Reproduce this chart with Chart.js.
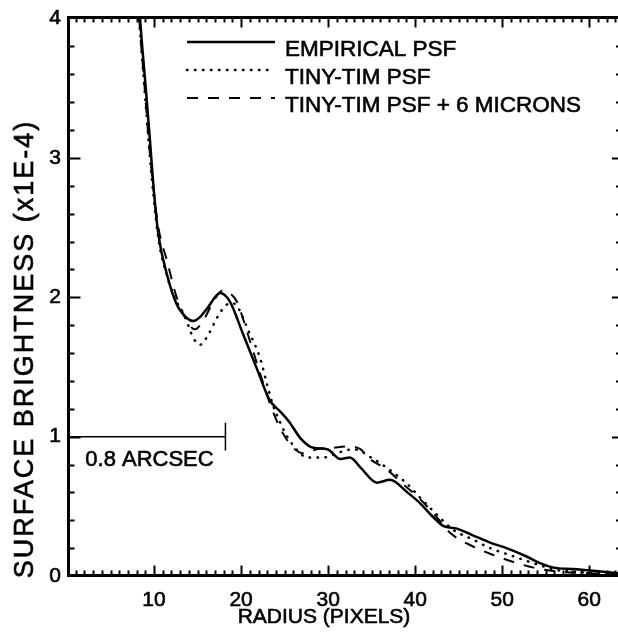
<!DOCTYPE html>
<html>
<head>
<meta charset="utf-8">
<script src="https://cdn.jsdelivr.net/npm/chart.js@4/dist/chart.umd.min.js"></script>
<style>
  html, body { margin: 0; padding: 0; background: #fff; }
  canvas { display: block; }
</style>
</head>
<body>
<canvas id="psfChart" width="618" height="635"></canvas>
<script>
// radial profiles: radius in pixels, surface brightness in units of 1E-4
const empiricalRadius = [8.0, 8.4, 9.05, 9.5, 10.0, 10.5, 11.5, 12.6, 13.8, 14.5, 15.3, 16.1, 17.6, 18.7, 20.2,
  21.8, 23.3, 24.5, 25.6, 26.8, 28.3, 29.9, 31.4, 32.5, 33.7, 35.6, 37.1, 39.1, 40.6, 42.1,
  43.2, 44.8, 46.7, 48.6, 50.5, 52.8, 54.4, 55.9, 58.2, 60.1, 63.3]
const empiricalValue = [4.45, 4.0, 3.5, 3.15, 2.75, 2.45, 2.16, 1.95, 1.85, 1.83, 1.86, 1.92, 2.03, 1.97, 1.74,
  1.49, 1.26, 1.18, 1.1, 0.99, 0.92, 0.91, 0.84, 0.85, 0.78, 0.67, 0.69, 0.60, 0.52, 0.42,
  0.36, 0.34, 0.29, 0.24, 0.2, 0.14, 0.09, 0.06, 0.05, 0.04, 0.02]

const tinyTimRadius = [7.9, 8.3, 8.9, 9.4, 9.9, 10.5, 11.5, 12.5, 13.5, 14.5, 15.3, 16.3, 17.3, 18.2, 19.0,
  19.8, 20.7, 22.2, 23.0, 23.7, 24.5, 25.3, 26.8, 27.6, 29.4, 31.4, 32.9, 35.2, 37.1, 39.1,
  40.6, 42.5, 44.4, 46.7, 48.6, 50.9, 53.2, 54.7, 56.5, 58.5, 60.5, 63.3]
const tinyTimValue = [4.45, 4.0, 3.5, 3.1, 2.75, 2.42, 2.15, 1.98, 1.87, 1.71, 1.66, 1.74, 1.86, 1.94, 1.96,
  1.91, 1.78, 1.56, 1.37, 1.22, 1.1, 1.0, 0.88, 0.85, 0.85, 0.89, 0.91, 0.84, 0.76, 0.66,
  0.56, 0.44, 0.33, 0.26, 0.2, 0.15, 0.10, 0.07, 0.04, 0.03, 0.02, 0.01]

const micronRadius = [7.9, 8.3, 8.9, 9.4, 9.9, 10.5, 11.5, 12.5, 13.5, 14.7, 15.8, 16.9, 17.9, 18.7, 19.5,
  21.0, 22.2, 23.3, 24.5, 26.0, 27.2, 28.7, 30.5, 32.5, 33.7, 34.8, 36.8, 38.6, 40.6, 42.5,
  44.0, 46.7, 48.6, 51.3, 53.6, 56.7, 60.0, 63.3]
const micronValue = [4.45, 4.0, 3.52, 3.12, 2.8, 2.5, 2.26, 2.02, 1.86, 1.77, 1.85, 1.98, 2.05, 2.03, 1.97,
  1.69, 1.45, 1.24, 1.06, 0.92, 0.88, 0.91, 0.92, 0.93, 0.91, 0.84, 0.76, 0.66, 0.55, 0.42,
  0.31, 0.21, 0.16, 0.10, 0.06, 0.03, 0.02, 0.01]

const seriesLabels = ['EMPIRICAL PSF', 'TINY-TIM PSF', 'TINY-TIM PSF + 6 MICRONS']
const xTicks = [10, 20, 30, 40, 50, 60]
const yTicks = [0, 1, 2, 3, 4]
const arcsecBar = [0, 18.2]   // 0.8 arcsec expressed in pixels, drawn at level 1
const arcsecLevel = 1

const FONT = '"Liberation Sans", Arial, Helvetica, sans-serif'

function toPoints(rs, vs) {
  return rs.map((r, i) => ({ x: r, y: vs[i] }))
}

// filled text with a thin outline, the scan looks a bit heavier than plain Arial
function heavyText(ctx, txt, x, y) {
  ctx.lineWidth = 0.6
  ctx.strokeStyle = '#000'
  ctx.strokeText(txt, x, y)
  ctx.fillText(txt, x, y)
}

// frame with inward ticks on every side, like the original plot
const framePlugin = {
  id: 'frame',
  afterDatasetsDraw(chart) {
    const { ctx, chartArea: a, scales: { x, y } } = chart
    ctx.save()
    ctx.strokeStyle = '#000'
    ctx.lineCap = 'butt'
    ctx.lineWidth = 3
    const L = a.left + 1.5, T = a.top - 1, B = a.bottom - 0.5
    ctx.beginPath()
    ctx.moveTo(L - 1.5, T); ctx.lineTo(a.right, T)
    ctx.moveTo(L, T - 1.5); ctx.lineTo(L, B + 1.5)
    ctx.moveTo(L - 1.5, B); ctx.lineTo(a.right, B)
    ctx.stroke()

    ctx.lineWidth = 2
    ctx.beginPath()
    for (let r = 1; r <= 63; r++) {
      const px = Math.round(x.getPixelForValue(r)) + 0.5
      const len = r % 10 === 0 ? 10 : 5
      ctx.moveTo(px, T); ctx.lineTo(px, T + len)
      ctx.moveTo(px, B); ctx.lineTo(px, B - len)
    }
    for (let i = 1; i < 20; i++) {
      const py = Math.round(y.getPixelForValue(i * 0.2)) + 0.5
      const major = i % 5 === 0
      ctx.moveTo(L, py); ctx.lineTo(L + (major ? 12 : 6), py)
      ctx.moveTo(a.right, py); ctx.lineTo(a.right - (major ? 6 : 2), py)
    }
    ctx.stroke()

    // scale bar: 0.8 arcsec
    const bx0 = x.getPixelForValue(arcsecBar[0]), bx1 = x.getPixelForValue(arcsecBar[1])
    const by = y.getPixelForValue(arcsecLevel)
    ctx.lineWidth = 1.5
    ctx.beginPath()
    ctx.moveTo(bx0, by); ctx.lineTo(bx1, by)
    ctx.moveTo(bx1, y.getPixelForValue(arcsecLevel + 0.1)); ctx.lineTo(bx1, y.getPixelForValue(arcsecLevel - 0.1))
    ctx.stroke()
    ctx.fillStyle = '#000'
    ctx.font = '22px ' + FONT
    ctx.textAlign = 'left'
    ctx.textBaseline = 'alphabetic'
    heavyText(ctx, '0.8 ARCSEC', x.getPixelForValue(2.1), y.getPixelForValue(arcsecLevel - 0.21))

    // legend
    const lx0 = 187, lx1 = 275, tx = 285
    chart.data.datasets.forEach((ds, i) => {
      const ly = 42 + i * 28
      ctx.strokeStyle = '#000'
      ctx.lineWidth = ds.borderWidth
      ctx.lineCap = ds.borderCapStyle || 'butt'
      ctx.setLineDash(ds.borderDash || [])
      ctx.beginPath()
      ctx.moveTo(lx0, ly); ctx.lineTo(lx1, ly)
      ctx.stroke()
      ctx.setLineDash([])
      ctx.lineCap = 'butt'
      ctx.font = '22.5px ' + FONT
      heavyText(ctx, ds.label, tx, ly + 13.5)
    })

    // axis titles
    ctx.font = '21px ' + FONT
    ctx.textAlign = 'center'
    heavyText(ctx, 'RADIUS (PIXELS)', 324, 623)
    ctx.translate(33, 349)
    ctx.rotate(-Math.PI / 2)
    ctx.font = '27px ' + FONT
    ctx.letterSpacing = '2px'
    heavyText(ctx, 'SURFACE BRIGHTNESS (x1E-4)', 0, 0)
    ctx.restore()
  }
}

const tickFont = { family: FONT, size: 21 }

new Chart(document.getElementById('psfChart'), {
  type: 'line',
  data: {
    datasets: [
      {
        label: seriesLabels[0],
        data: toPoints(empiricalRadius, empiricalValue),
        borderColor: '#000',
        borderWidth: 2.5,
        pointRadius: 0,
        cubicInterpolationMode: 'monotone'
      },
      {
        label: seriesLabels[1],
        data: toPoints(tinyTimRadius, tinyTimValue),
        borderColor: '#000',
        borderWidth: 2.5,
        borderDash: [0.5, 7.5],
        borderCapStyle: 'round',
        pointRadius: 0,
        cubicInterpolationMode: 'monotone'
      },
      {
        label: seriesLabels[2],
        data: toPoints(micronRadius, micronValue),
        borderColor: '#000',
        borderWidth: 2,
        borderDash: [11, 10],
        pointRadius: 0,
        cubicInterpolationMode: 'monotone'
      }
    ]
  },
  options: {
    responsive: false,
    devicePixelRatio: 1,
    animation: false,
    layout: { padding: { top: 16, left: 0, right: 0, bottom: 0 } },
    plugins: { legend: { display: false }, tooltip: { enabled: false } },
    scales: {
      x: {
        type: 'linear',
        min: 0,
        max: 63.3,
        grid: { display: false, drawTicks: false },
        border: { display: false },
        afterBuildTicks: s => { s.ticks = xTicks.map(v => ({ value: v })) },
        afterFit: s => { s.height = 59 },
        ticks: {
          color: '#000', font: tickFont, padding: 12, maxRotation: 0, autoSkip: false,
          textStrokeColor: '#000', textStrokeWidth: 0.6
        }
      },
      y: {
        type: 'linear',
        min: 0,
        max: 4,
        grid: { display: false, drawTicks: false },
        border: { display: false },
        afterBuildTicks: s => { s.ticks = yTicks.map(v => ({ value: v })) },
        afterFit: s => { s.width = 67 },
        ticks: {
          color: '#000', font: tickFont, padding: 6, autoSkip: false,
          textStrokeColor: '#000', textStrokeWidth: 0.6
        }
      }
    }
  },
  plugins: [framePlugin]
})
</script>
</body>
</html>
